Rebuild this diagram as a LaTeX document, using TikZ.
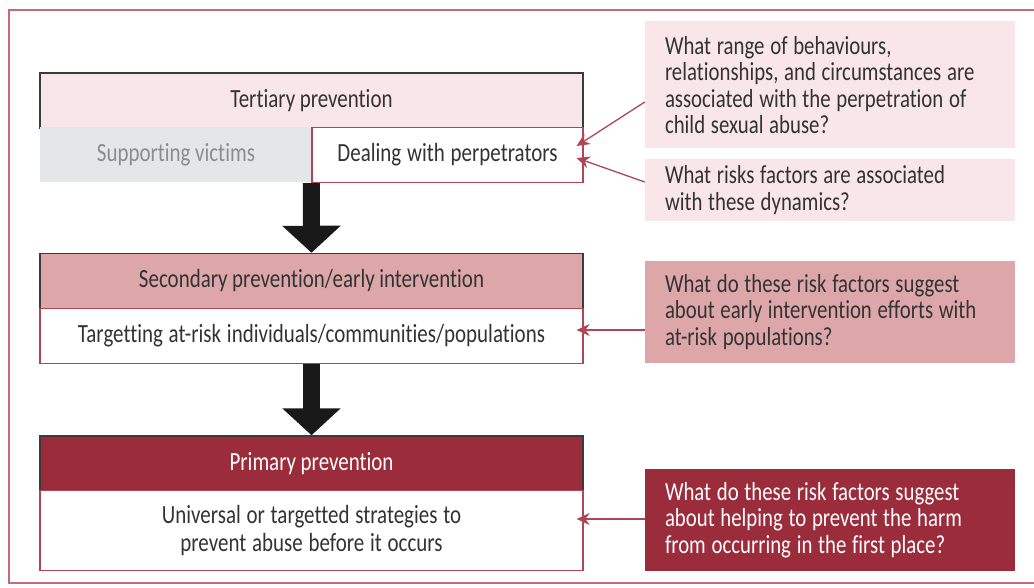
\documentclass[tikz,border=0pt]{standalone}
\usepackage{fontspec}
\setmainfont{Carlito}[FakeStretch=0.8, Ligatures=NoCommon, WordSpace=0.95]
\usetikzlibrary{arrows.meta}
\definecolor{framec}{HTML}{C46B75}
\definecolor{pinkL}{HTML}{F9E6E8}
\definecolor{pinkM}{HTML}{DDA7A9}
\definecolor{redD}{HTML}{9A2C3C}
\definecolor{grayL}{HTML}{E5E6E8}
\definecolor{grayT}{HTML}{8C8C8C}
\definecolor{txt}{HTML}{333333}
\definecolor{edgeD}{HTML}{3C3A3A}
\definecolor{edgeR}{HTML}{B04555}
\tikzset{
  tightspace/.style={execute at begin node={\spaceskip=0.22em\relax\xspaceskip=0.22em\relax}},
  hdr/.style={draw=edgeD, line width=1.5pt, minimum width=543pt, minimum height=55pt, inner sep=0pt, text=txt, font=\fontsize{26.2}{28}\selectfont},
  sub/.style={draw=edgeR, line width=1.3pt, fill=white, minimum height=55pt, inner sep=0pt, text=txt, font=\fontsize{26.2}{28}\selectfont, align=center, tightspace},
  qbox/.style={minimum width=370pt, text width=330pt, inner xsep=20pt, inner ysep=0pt, align=left, text=txt, font=\fontsize{26}{26.5}\selectfont, tightspace},
  qarrow/.style={draw=edgeR, line width=1.3pt, -{Stealth[length=13pt,width=12pt]}},
  bigarrow/.style={draw=black!90, line width=17pt, -{Triangle[length=27pt,width=57pt]}}
}
\begin{document}
\begin{tikzpicture}[x=1pt,y=-1pt]
\useasboundingbox (0,0) rectangle (1034,588);
\begin{scope}
\clip (0,0) rectangle (1034,588);
\draw[framec, line width=1.5pt] (9,10) rectangle (1050,583);
\end{scope}
% left column
\node[hdr, fill=pinkL] (tert) at (311.5,100.5) {Tertiary prevention};
\node[minimum width=272pt, minimum height=55pt, inner sep=0pt, fill=grayL, text=grayT, font=\fontsize{26.2}{28}\selectfont] (supp) at (176,155) {Supporting victims};
\node[sub, minimum width=271pt] (deal) at (447.5,155) {Dealing with perpetrators};
\node[hdr, fill=pinkM] (sec) at (311.5,281) {Secondary prevention/early intervention};
\node[sub, minimum width=543pt] (targ) at (311.5,336) {Targetting at-risk individuals/communities/populations};
\node[hdr, fill=redD, text=white] (prim) at (311.5,463.5) {Primary prevention};
\node[sub, minimum width=543pt, minimum height=80pt, font=\fontsize{26.2}{28}\selectfont] (univ) at (311.5,530.5) {Universal or targetted strategies to\\prevent abuse before it occurs};
% big arrows
\draw[bigarrow] (deal.south west) -- (sec.north);
\draw[bigarrow] (targ.south) -- (prim.north);
% right column
\node[qbox, fill=pinkL, minimum height=127pt] (q1) at (830,85) {What range of behaviours,\\relationships, and circumstances are\\associated with the perpetration of\\child sexual abuse?};
\node[qbox, fill=pinkL, minimum height=62pt] (q2) at (830,190) {What risks factors are associated\\with these dynamics?};
\node[qbox, fill=pinkM, minimum height=102pt] (q3) at (830,312) {What do these risk factors suggest\\about early intervention efforts with\\at-risk populations?};
\node[qbox, fill=redD, text=white, minimum height=102pt] (q4) at (830,520) {What do these risk factors suggest\\about helping to prevent the harm\\from occurring in the first place?};
% question arrows
\draw[qarrow] ([yshift=-17pt]q1.west) -- ([xshift=-7pt,yshift=9pt]deal.east);
\draw[qarrow] ([yshift=8pt]q2.west) -- ([xshift=-7pt,yshift=-3pt]deal.east);
\draw[qarrow] ([yshift=-18pt]q3.west) -- ([xshift=-7pt,yshift=6pt]targ.east);
\draw[qarrow] ([yshift=1pt]q4.west) -- ([xshift=-7pt,yshift=11.5pt]univ.east);
\end{tikzpicture}
\end{document}
